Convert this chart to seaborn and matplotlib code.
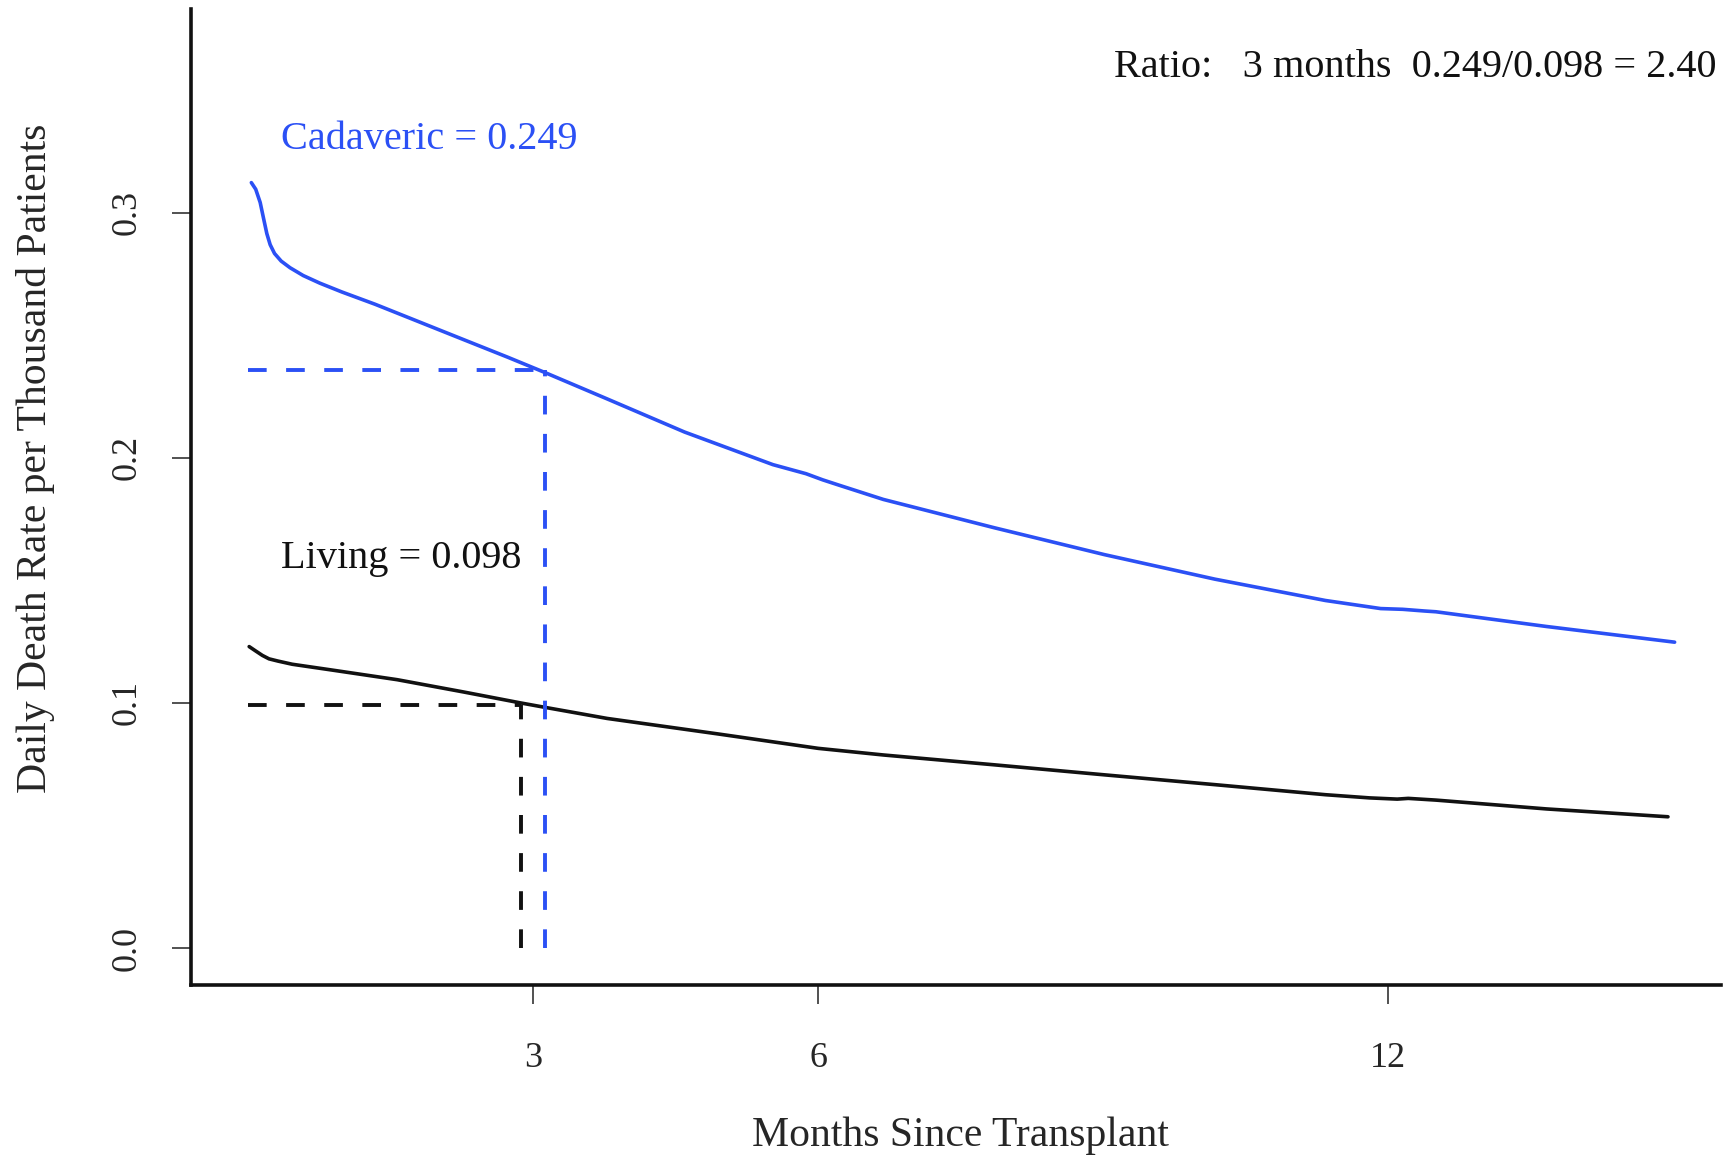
import numpy as np
import pandas as pd
import matplotlib
matplotlib.use("Agg")
import matplotlib.pyplot as plt
import seaborn as sns

# ---------------- data ----------------
cad_months = [0.035, 0.081, 0.128, 0.163, 0.198, 0.233, 0.279, 0.349, 0.442, 0.581, 0.756,
              0.988, 1.337, 1.802, 2.267, 2.733, 3.128, 3.779, 4.593, 5.523, 5.872, 6.047,
              6.221, 6.686, 7.849, 9.012, 10.174, 11.337, 11.919, 12.151, 12.384, 12.500,
              13.663, 15.012]
cad_rate = [0.3122, 0.3095, 0.3041, 0.2977, 0.2914, 0.2869, 0.2833, 0.2802, 0.2775, 0.2743,
            0.2712, 0.2676, 0.2626, 0.2554, 0.2482, 0.2410, 0.2347, 0.2240, 0.2105, 0.1972,
            0.1935, 0.1910, 0.1888, 0.1830, 0.1715, 0.1605, 0.1505, 0.1418, 0.1385, 0.1382,
            0.1375, 0.1372, 0.1312, 0.1248]

liv_months = [0.012, 0.081, 0.151, 0.221, 0.314, 0.465, 0.872, 1.570, 2.267, 2.872, 3.128,
              3.779, 4.942, 6.000, 6.686, 7.849, 9.012, 10.174, 11.337, 11.802, 12.093,
              12.209, 12.500, 13.663, 14.942]
liv_rate = [0.1230, 0.1212, 0.1194, 0.1180, 0.1171, 0.1158, 0.1135, 0.1095, 0.1045, 0.1000,
            0.0982, 0.0937, 0.0874, 0.0815, 0.0788, 0.0748, 0.0707, 0.0667, 0.0626, 0.0613,
            0.0608, 0.0611, 0.0604, 0.0568, 0.0536]

# reference lines at ~3 months
cad_ref_month = 3.13
cad_ref_rate = 0.2356
liv_ref_month = 2.87
liv_ref_rate = 0.0991

x_ticks = [3, 6, 12]
y_ticks = [0.0, 0.1, 0.2, 0.3]
y_tick_labels = ["0.0", "0.1", "0.2", "0.3"]

cad_label = "Cadaveric = 0.249"
liv_label = "Living = 0.098"
ratio_label = "Ratio:   3 months  0.249/0.098 = 2.40"
x_title = "Months Since Transplant"
y_title = "Daily Death Rate per Thousand Patients"

BLUE = "#2b50f5"
BLACK = "#111111"

df = pd.DataFrame({
    "months": cad_months + liv_months,
    "rate": cad_rate + liv_rate,
    "group": ["Cadaveric"] * len(cad_months) + ["Living"] * len(liv_months),
})

# ---------------- style ----------------
sns.set_style("ticks")
plt.rcParams["font.family"] = ["Liberation Serif", "DejaVu Serif"]

fig = plt.figure(figsize=(17.3, 11.57), dpi=100)
ax = fig.add_axes([191 / 1730, 1 - 985 / 1157, (1721 - 191) / 1730, (985 - 9) / 1157])

sns.lineplot(data=df, x="months", y="rate", hue="group",
             palette={"Cadaveric": BLUE, "Living": BLACK},
             linewidth=2.6, legend=False, ax=ax, estimator=None, sort=False)

dash = (4.8, 5.0)
lw_d = 2.8
# cadaveric reference
ax.plot([0.0, cad_ref_month], [cad_ref_rate, cad_ref_rate], color=BLUE, lw=lw_d, dashes=dash)
ax.plot([cad_ref_month, cad_ref_month], [0.0, cad_ref_rate], color=BLUE, lw=lw_d, dashes=dash)
# living reference
ax.plot([0.0, liv_ref_month], [liv_ref_rate, liv_ref_rate], color=BLACK, lw=lw_d, dashes=dash)
ax.plot([liv_ref_month, liv_ref_month], [0.0, liv_ref_rate], color=BLACK, lw=lw_d, dashes=dash)

ax.set_xlim(-0.6, 15.5)
ax.set_ylim(-0.015, 0.383)

ax.set_xticks(x_ticks)
ax.set_xticklabels([str(t) for t in x_ticks], fontsize=26)
ax.set_yticks(y_ticks)
ax.set_yticklabels(y_tick_labels, fontsize=26, rotation=90, va="center")
ax.tick_params(axis="both", length=14, width=1.1, color="#222222")
ax.tick_params(axis="x", pad=27)
ax.tick_params(axis="y", pad=20)

sns.despine(ax=ax, top=True, right=True)
for s in ["left", "bottom"]:
    ax.spines[s].set_linewidth(2.6)
    ax.spines[s].set_color("#111111")

ax.text(0.347, 0.3296, cad_label, color=BLUE, fontsize=29, ha="left", va="center")
ax.text(0.347, 0.1590, liv_label, color=BLACK, fontsize=29, ha="left", va="center")
ax.text(15.45, 0.359, ratio_label, color=BLACK, fontsize=29, ha="right", va="center")

ax.set_xlabel(x_title, fontsize=30, va="baseline")
ax.xaxis.set_label_coords((960 - 191) / 1530, -(1146 - 985) / 976)
ax.set_ylabel(y_title, fontsize=30, va="center")
ax.yaxis.set_label_coords((36 - 191) / 1530, (985 - 458) / 976)

fig.savefig("out.png", dpi=100)
